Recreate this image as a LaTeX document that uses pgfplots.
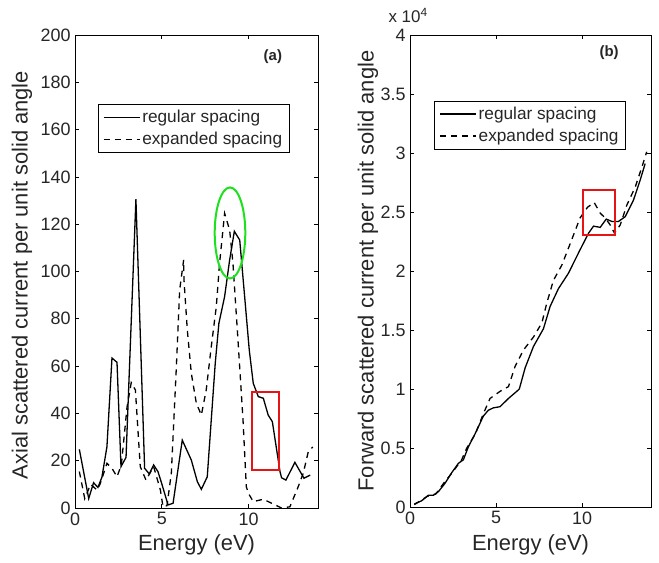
\documentclass[border=0pt]{standalone}
\usepackage{fontspec}
\setmainfont{Liberation Sans}
\usepackage{pgfplots}
\pgfplotsset{compat=1.18}
\definecolor{annred}{RGB}{230,20,20}
\definecolor{anngreen}{RGB}{30,225,30}
\pgfplotsset{mystyle/.style={
  scale only axis,
  axis line style={line width=0.9bp},
  tick align=inside,
  major tick length=4bp,
  tick style={line width=0.6bp, black},
  xmin=0, xmax=14, xtick={0,5,10},
  ticklabel style={font=\fontsize{18}{18}\selectfont, text=black!85},
  /pgf/number format/assume math mode=true,
  xticklabel style={yshift=-1bp},
  yticklabel style={xshift=-1bp},
  legend cell align=left,
  legend style={draw=black, line width=0.8bp, font=\fontsize{17.3}{17.5}\selectfont, text=black!85,
    inner xsep=5bp, inner ysep=4bp, row sep=4bp, anchor=north west, fill=white},
  legend image code/.code={\draw[#1] (0bp,0bp) -- (36bp,0bp);},
  solidline/.style={black, line width=1.3bp},
  dashline/.style={black, line width=1.3bp, dash pattern=on 6bp off 5bp},
}}
\begin{document}
\begin{tikzpicture}
\useasboundingbox (0bp,0bp) rectangle (659bp,563bp);
% ---------- panel (a)
\begin{axis}[mystyle, at={(75bp,55bp)}, anchor=south west, width=243bp, height=473bp,
  ymin=0, ymax=200, ytick={0,20,...,200},
  legend style={at={(rel axis cs:0.093,0.854)}}]
\addplot[solidline] coordinates {
(0.25,24.8) (0.79,4) (1.07,10.7) (1.32,8.7) (1.55,13) (1.84,25.9) (2.13,63.4) (2.42,61.6) (2.65,17.5) (2.94,21.4) (3.51,130.6) (4.01,16.8) (4.28,14.4) (4.53,18.2) (4.78,15.4) (5.01,10) (5.36,1.3) (5.65,2) (6.18,28.7) (6.70,20.3) (7.05,11.1) (7.28,7.9) (7.62,13.2) (8.08,61.2) (8.29,78.1) (8.62,89.4) (8.91,104.9) (9.18,117) (9.49,113.3) (9.79,88) (10.04,66.8) (10.27,52.7) (10.56,47.1) (10.85,46.4) (11.13,39.3) (11.37,36.5) (11.81,15.4) (11.9,12.8) (12.15,11.8) (12.67,19.3) (13.19,12.6) (13.55,13.9)
};
\addlegendentry{regular spacing}
\addplot[dashline] coordinates {
(0.25,15.4) (0.56,4) (0.9,10) (1.27,7.6) (1.46,10.4) (1.84,18.9) (2.13,16.8) (2.42,13.2) (2.67,18.2) (3.0,42.8) (3.24,53) (3.48,49.9) (3.76,17.5) (4.09,11.8) (4.53,17.5) (4.92,7.6) (5.07,0.5) (5.3,1) (5.55,14.7) (5.84,59.7) (6.03,92.2) (6.26,104.9) (6.28,96.4) (6.47,75.3) (6.70,57) (6.99,44.3) (7.28,39.3) (7.56,49.9) (7.85,68.2) (8.14,85.1) (8.33,103.5) (8.62,124.6) (8.91,117.5) (9.10,103.5) (9.39,71) (9.68,37.2) (9.87,9) (9.99,6.2) (10.27,2.7) (10.85,3.7) (11.33,2) (11.9,0) (12.38,0.5) (12.86,9) (13.15,14.7) (13.44,23.8) (13.7,25.8)
};
\addlegendentry{expanded spacing}
\draw[anngreen, line width=2bp] (axis cs:8.93,116.3) ellipse [x radius=15.3bp, y radius=45.5bp];
\draw[annred, line width=2bp] (axis cs:10.2,16.1) rectangle (axis cs:11.75,49.2);
\node[font=\bfseries\fontsize{15}{15}\selectfont, text=black!85] at (axis cs:11.4,190.7) {(a)};
\end{axis}
% ---------- panel (b)
\begin{axis}[mystyle, at={(410bp,56bp)}, anchor=south west, width=241bp, height=472bp,
  ymin=0, ymax=4, ytick={0,0.5,...,4},
  yticklabel style={/pgf/number format/fixed},
  legend style={at={(rel axis cs:0.0996,0.861)}}]
\addplot[solidline] coordinates {
(0.25,0.025) (0.68,0.053) (1.07,0.10) (1.36,0.10) (1.65,0.13) (2.03,0.20) (2.42,0.29) (2.81,0.37) (3.10,0.40) (3.39,0.51) (3.78,0.62) (4.26,0.77) (4.55,0.82) (4.84,0.84) (5.23,0.85) (5.72,0.92) (6.20,0.98) (6.35,1.0) (6.69,1.18) (7.17,1.36) (7.75,1.51) (8.14,1.70) (8.62,1.85) (9.20,1.98) (9.88,2.18) (10.37,2.32) (10.66,2.38) (11.05,2.37) (11.40,2.44) (11.72,2.42) (12.11,2.42) (12.5,2.46) (12.98,2.60) (13.37,2.77) (13.66,2.91)
};
\addlegendentry{regular spacing}
\addplot[dashline] coordinates {
(0.25,0.02) (1,0.09) (1.5,0.11) (2,0.21) (2.5,0.30) (3,0.40) (3.3,0.50) (3.8,0.62) (4.26,0.79) (4.65,0.92) (5.23,0.98) (5.72,1.02) (6.10,1.19) (6.59,1.33) (7.17,1.44) (7.66,1.56) (7.95,1.73) (8.33,1.92) (8.82,2.05) (9.30,2.23) (9.88,2.45) (10.31,2.54) (10.70,2.58) (11.05,2.49) (11.34,2.45) (11.63,2.39) (11.88,2.32) (12.21,2.39) (12.6,2.56) (13.08,2.71) (13.47,2.88) (13.75,3.01)
};
\addlegendentry{expanded spacing}
\draw[annred, line width=2bp] (axis cs:10.07,2.305) rectangle (axis cs:11.93,2.69);
\node[font=\bfseries\fontsize{15}{15}\selectfont, text=black!85] at (axis cs:11.57,3.85) {(b)};
\end{axis}
% ---------- labels
\node[rotate=90, font=\fontsize{22}{22}\selectfont, text=black!85] at (22bp,288bp) {Axial scattered current per unit solid angle};
\node[rotate=90, font=\fontsize{22}{22}\selectfont, text=black!85] at (368bp,292bp) {Forward scattered current per unit solid angle};
\node[font=\fontsize{22}{22}\selectfont, text=black!85] at (196.5bp,18bp) {Energy (eV)};
\node[font=\fontsize{22}{22}\selectfont, text=black!85] at (530.5bp,18bp) {Energy (eV)};
\node[anchor=base west, font=\fontsize{17}{17}\selectfont, text=black!85] at (385bp,540bp) {x 10\raisebox{6bp}{\fontsize{12}{12}\selectfont 4}};
\end{tikzpicture}
\end{document}
